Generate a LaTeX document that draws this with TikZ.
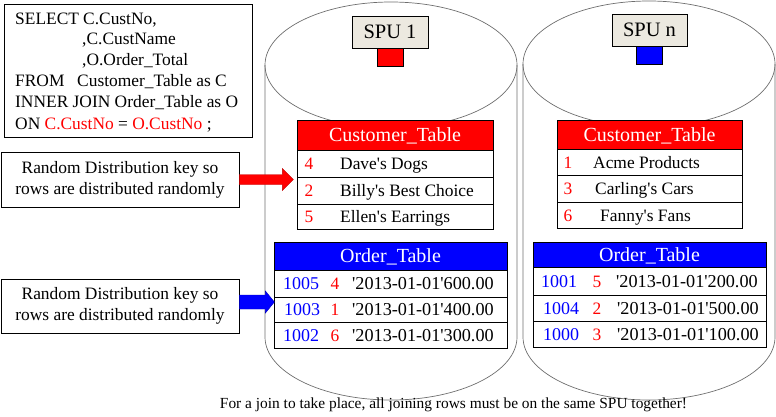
\documentclass[tikz,border=0pt]{standalone}
\usepackage{fontspec}
\setmainfont{Liberation Serif}[Ligatures=TeXOff]
\definecolor{spubg}{RGB}{236,233,224}
\definecolor{cylgray}{RGB}{110,110,110}
\definecolor{pred}{RGB}{255,0,0}
\definecolor{pblue}{RGB}{0,0,255}
\begin{document}
\begin{tikzpicture}[x=1pt,y=-1pt,
  font=\fontsize{17.4}{21}\selectfont,
  cyl/.style={draw=cylgray, line width=0.7pt},
  frame/.style={draw=black, line width=0.8pt, inner sep=0pt},
  cell/.style={draw=black, line width=0.9pt, fill=white, inner sep=0pt},
  redhead/.style={cell, fill=pred, text=white},
  bluehead/.style={cell, fill=pblue, text=white},
  txt/.style={inner sep=0pt, anchor=base west},
  otxt/.style={inner sep=0pt, anchor=base west, font=\fontsize{18.2}{21}\selectfont},
  num/.style={inner sep=0pt, anchor=base, text=pred},
  oid/.style={inner sep=0pt, anchor=base west, text=pblue, font=\fontsize{18}{21}\selectfont},
  hdr/.style={inner sep=0pt, anchor=base, text=white, font=\fontsize{20}{24}\selectfont},
  spubox/.style={draw=black, line width=0.8pt, fill=spubg, inner sep=0pt, minimum height=32pt, font=\fontsize{20.5}{24}\selectfont}
]
\path[use as bounding box] (0,0) rectangle (776,416);

% cylinders
\draw[cyl] (391,65) ellipse [x radius=126pt, y radius=63pt];
\draw[cyl] (265,65) -- (265,337) arc[start angle=180, end angle=360, x radius=126pt, y radius=63pt] -- (517,65);
\draw[cyl] (649,64) ellipse [x radius=126pt, y radius=63pt];
\draw[cyl] (523,64) -- (523,337) arc[start angle=180, end angle=360, x radius=126pt, y radius=63pt] -- (775,64);

% SQL box
\node[frame, minimum width=248pt, minimum height=133pt] (sql) at (128,70.5) {};
\node[txt] (q1) at (15,24) {SELECT};
\node[txt] (q1b) at (83,24) {C.CustNo,};
\node[txt] (q2) at (82,44.5) {,C.CustName};
\node[txt] (q3) at (82,65.5) {,O.Order\_Total};
\node[txt] (q4) at (15,86.3) {FROM};
\node[txt] (q4b) at (77,86.3) {Customer\_Table as C};
\node[txt] (q5) at (15,107.3) {INNER JOIN Order\_Table as O};
\node[txt] (q6) at (15,129) {ON \textcolor{pred}{C.CustNo} = \textcolor{pred}{O.CustNo} ;};

% SPU labels
\node[spubox, minimum width=76pt] (spu1) at (390,32) {SPU 1};
\node[draw=black, line width=0.8pt, fill=pred, minimum width=26pt, minimum height=18pt, inner sep=0pt] (sq1) at (390,57) {};
\node[spubox, minimum width=75pt] (spun) at (649.5,30) {SPU n};
\node[draw=black, line width=0.8pt, fill=pblue, minimum width=26pt, minimum height=18pt, inner sep=0pt] (sqn) at (649,55) {};

% Customer table 1
\node[redhead, minimum width=196pt, minimum height=30pt] (c1h) at (395,135) {};
\node[hdr] at (395,141.5) {Customer\_Table};
\node[cell, minimum width=196pt, minimum height=27pt] (c1r1) at (395,163.5) {};
\node[cell, minimum width=196pt, minimum height=27pt] (c1r2) at (395,190.5) {};
\node[cell, minimum width=196pt, minimum height=25pt] (c1r3) at (395,216.5) {};
\node[num] at (309,169.5) {4};  \node[txt] at (340,169.5) {Dave's Dogs};
\node[num] at (309,196.5) {2};  \node[txt] at (340,196.5) {Billy's Best Choice};
\node[num] at (309,222.5) {5};  \node[txt] at (340,222.5) {Ellen's Earrings};

% Customer table 2
\node[redhead, minimum width=185pt, minimum height=29pt] (c2h) at (649.5,134.5) {};
\node[hdr] at (649.5,141) {Customer\_Table};
\node[cell, minimum width=185pt, minimum height=26pt] (c2r1) at (649.5,162) {};
\node[cell, minimum width=185pt, minimum height=27pt] (c2r2) at (649.5,188.5) {};
\node[cell, minimum width=185pt, minimum height=26pt] (c2r3) at (649.5,215) {};
\node[num] at (568,168) {1};  \node[txt] at (593,168) {Acme Products};
\node[num] at (568,194.5) {3};    \node[txt] at (595,194.5) {Carling's Cars};
\node[num] at (568,221) {6};  \node[txt] at (600,221) {Fanny's Fans};

% Order table 1
\node[bluehead, minimum width=233pt, minimum height=28pt] (o1h) at (390.5,256) {};
\node[hdr] at (390.5,262.5) {Order\_Table};
\node[cell, minimum width=233pt, minimum height=27pt] (o1r1) at (390.5,283.5) {};
\node[cell, minimum width=233pt, minimum height=25pt] (o1r2) at (390.5,309.5) {};
\node[cell, minimum width=233pt, minimum height=26pt] (o1r3) at (390.5,335) {};
\node[oid] at (283,289.5) {1005}; \node[num] at (335,289.5) {4}; \node[otxt] at (352,289.5) {'2013-01-01'600.00};
\node[oid] at (284,315.5) {1003}; \node[num] at (335,315.5) {1}; \node[otxt] at (352,315.5) {'2013-01-01'400.00};
\node[oid] at (283,341) {1002}; \node[num] at (335,341) {6}; \node[otxt] at (352,341) {'2013-01-01'300.00};

% Order table 2
\node[bluehead, minimum width=233pt, minimum height=25pt] (o2h) at (649.5,254.5) {};
\node[hdr] at (649.5,261) {Order\_Table};
\node[cell, minimum width=233pt, minimum height=28pt] (o2r1) at (649.5,281) {};
\node[cell, minimum width=233pt, minimum height=26pt] (o2r2) at (649.5,308) {};
\node[cell, minimum width=233pt, minimum height=26pt] (o2r3) at (649.5,334) {};
\node[oid] at (541,287) {1001}; \node[num] at (597,287) {5}; \node[otxt] at (616,287) {'2013-01-01'200.00};
\node[oid] at (543,314) {1004}; \node[num] at (597,314) {2}; \node[otxt] at (617,314) {'2013-01-01'500.00};
\node[oid] at (543,340) {1000}; \node[num] at (597,340) {3}; \node[otxt] at (617,340) {'2013-01-01'100.00};

% left boxes
\node[frame, minimum width=238pt, minimum height=55pt, align=center] (lb1) at (120,179.5) {Random Distribution key so\\rows are distributed randomly};
\node[frame, minimum width=238pt, minimum height=54pt, align=center] (lb2) at (120,306) {Random Distribution key so\\rows are distributed randomly};

% arrows
\coordinate (ra) at (lb1.east);
\coordinate (ba) at ([yshift=4pt]lb2.east);
\filldraw[fill=pred, draw=pred!75!black, line width=0.4pt]
  ([yshift=-5pt]ra) -- ([shift={(43pt,-5pt)}]ra) -- ([shift={(43pt,-11pt)}]ra) -- ([xshift=54pt]ra)
  -- ([shift={(43pt,11pt)}]ra) -- ([shift={(43pt,5pt)}]ra) -- ([yshift=5pt]ra) -- cycle;
\filldraw[fill=pblue, draw=pblue!75!black, line width=0.4pt]
  ([yshift=-7pt]ba) -- ([shift={(26pt,-7pt)}]ba) -- ([shift={(26pt,-11pt)}]ba) -- ([xshift=35pt]ba)
  -- ([shift={(26pt,11pt)}]ba) -- ([shift={(26pt,7pt)}]ba) -- ([yshift=7pt]ba) -- cycle;

% bottom note
\node[inner sep=0pt, anchor=base, font=\fontsize{15.4}{18}\selectfont] (note) at (453.5,408) {For a join to take place, all joining rows must be on the same SPU together!};
\end{tikzpicture}
\end{document}
